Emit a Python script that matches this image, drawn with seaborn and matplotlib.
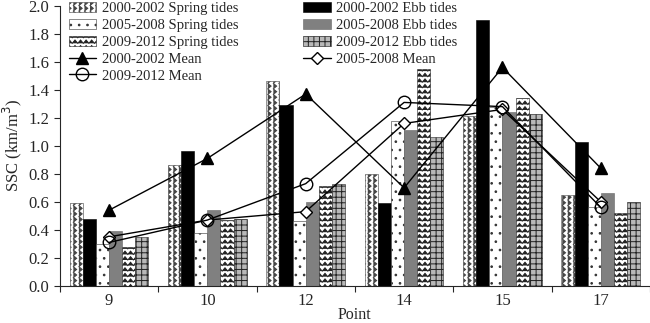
import matplotlib
matplotlib.use("Agg")
import warnings
warnings.filterwarnings("ignore")
import matplotlib.pyplot as plt
import matplotlib.hatch as mhatch
from matplotlib.path import Path
import seaborn as sns
import pandas as pd
import numpy as np

points = ["9", "10", "12", "14", "15", "17"]
series = ["2000-2002 Spring tides", "2000-2002 Ebb tides",
          "2005-2008 Spring tides", "2005-2008 Ebb tides",
          "2009-2012 Spring tides", "2009-2012 Ebb tides"]
spring_0002 = [0.59, 0.86, 1.46, 0.80, 1.21, 0.65]
ebb_0002 = [0.48, 0.96, 1.29, 0.59, 1.90, 1.03]
spring_0508 = [0.30, 0.38, 0.46, 1.18, 1.28, 0.56]
ebb_0508 = [0.39, 0.54, 0.60, 1.11, 1.24, 0.66]
spring_0912 = [0.28, 0.47, 0.71, 1.55, 1.34, 0.52]
ebb_0912 = [0.35, 0.48, 0.73, 1.06, 1.23, 0.60]
mean_0002 = [0.54, 0.91, 1.37, 0.70, 1.56, 0.84]
mean_0508 = [0.35, 0.47, 0.53, 1.16, 1.26, 0.60]
mean_0912 = [0.31, 0.47, 0.73, 1.31, 1.28, 0.56]


NSEG = 36  # zigzag segments per hatch cell


class ZigZagH(mhatch.HatchPatternBase):
    """horizontal zigzag lines, character 'z'"""
    def __init__(self, hatch, density):
        self.num_lines = int(hatch.count('z') * density)
        self.num_vertices = self.num_lines * (NSEG + 1)

    def set_vertices_and_codes(self, vertices, codes):
        if self.num_lines == 0:
            return
        steps, stepsize = np.linspace(0.0, 1.0, self.num_lines, False, retstep=True)
        steps += stepsize / 2.
        amp = stepsize * 0.3
        xs_ = np.linspace(0, 1, NSEG + 1)
        dy = np.where(np.arange(NSEG + 1) % 2 == 0, -amp, amp)
        n = NSEG + 1
        for i, s in enumerate(steps):
            vertices[i * n:(i + 1) * n, 0] = xs_
            vertices[i * n:(i + 1) * n, 1] = s + dy
            codes[i * n] = Path.MOVETO
            codes[i * n + 1:(i + 1) * n] = Path.LINETO


class ZigZagV(mhatch.HatchPatternBase):
    """vertical zigzag lines, character 'v'"""
    def __init__(self, hatch, density):
        self.num_lines = int(hatch.count('v') * density)
        self.num_vertices = self.num_lines * (NSEG + 1)

    def set_vertices_and_codes(self, vertices, codes):
        if self.num_lines == 0:
            return
        steps, stepsize = np.linspace(0.0, 1.0, self.num_lines, False, retstep=True)
        steps += stepsize / 2.
        amp = stepsize * 0.3
        ys_ = np.linspace(0, 1, NSEG + 1)
        dx = np.where(np.arange(NSEG + 1) % 2 == 0, -amp, amp)
        n = NSEG + 1
        for i, s in enumerate(steps):
            vertices[i * n:(i + 1) * n, 1] = ys_
            vertices[i * n:(i + 1) * n, 0] = s + dx
            codes[i * n] = Path.MOVETO
            codes[i * n + 1:(i + 1) * n] = Path.LINETO


for cls in (ZigZagH, ZigZagV):
    if cls not in mhatch._hatch_types:
        mhatch._hatch_types.append(cls)
try:
    mhatch._validate_hatch_pattern = lambda h: None
except Exception:
    pass

vals = [spring_0002, ebb_0002, spring_0508, ebb_0508, spring_0912, ebb_0912]
df = pd.DataFrame([{"Point": p, "Series": s, "SSC": v[i]}
                   for s, v in zip(series, vals) for i, p in enumerate(points)])

sns.set_style("ticks")
plt.rcParams['font.family'] = ['Liberation Serif', 'DejaVu Serif']
plt.rcParams['hatch.linewidth'] = 0.7

fig, ax = plt.subplots(figsize=(6.5, 3.23), dpi=100)
fig.subplots_adjust(left=0.092, right=1.0, top=0.982, bottom=0.115)

styles = {
    series[0]: dict(fc="white", hatch="vvv", ec="#444444"),
    series[1]: dict(fc="black", hatch=None, ec="black"),
    series[2]: dict(fc="white", hatch="..", ec="#333333"),
    series[3]: dict(fc="#808080", hatch=None, ec="#666666"),
    series[4]: dict(fc="white", hatch="zzz", ec="#222222"),
    series[5]: dict(fc="#b8b8b8", hatch="+++", ec="#222222"),
}

sns.barplot(data=df, x="Point", y="SSC", hue="Series", hue_order=series,
            order=points, ax=ax, width=0.8, legend=False, edgecolor="black",
            linewidth=0.4)

for cont, s in zip(ax.containers, series):
    st = styles[s]
    for bar in cont:
        bar.set_facecolor(st["fc"])
        bar.set_edgecolor(st["ec"])
        if st["hatch"]:
            bar.set_hatch(st["hatch"])

xs = np.arange(len(points))
l00, = ax.plot(xs, mean_0002, color="black", lw=1, marker="^", ms=8,
               mfc="black", mec="black", label="2000-2002 Mean")
l05, = ax.plot(xs, mean_0508, color="black", lw=1, marker="D", ms=6,
               mfc="white", mec="black", label="2005-2008 Mean")
l09, = ax.plot(xs, mean_0912, color="black", lw=1, marker="o", ms=9,
               mfc="none", mec="black", label="2009-2012 Mean")

from matplotlib.patches import Patch
def patch(s):
    st = styles[s]
    return Patch(facecolor=st["fc"], edgecolor=st["ec"], hatch=st["hatch"], linewidth=0.4)

handles = [patch(series[0]), patch(series[2]), patch(series[4]), l00, l09,
           patch(series[1]), patch(series[3]), patch(series[5]), l05]
labels = [series[0], series[2], series[4], "2000-2002 Mean", "2009-2012 Mean",
          series[1], series[3], series[5], "2005-2008 Mean"]
ax.legend(handles, labels, ncol=2, loc="upper left", bbox_to_anchor=(0.0, 1.045),
          frameon=False, fontsize=10.5, handlelength=1.9, handleheight=0.7,
          labelspacing=0.25, columnspacing=4.4, handletextpad=0.4, borderpad=0.1)

ax.set_xlim(-0.5, len(points) - 0.5)
ax.set_ylim(0, 2.0)
ax.set_yticks(np.arange(0, 2.01, 0.2))
ax.set_yticklabels([f"{v:.1f}" for v in np.arange(0, 2.01, 0.2)], fontsize=12)
ax.set_xticks(xs)
ax.set_xticklabels(points, fontsize=12)
ax.set_xticks(np.arange(-0.5, len(points), 1), minor=True)
ax.tick_params(axis="x", which="major", length=0, pad=5)
ax.tick_params(axis="x", which="minor", length=4, width=0.8, direction="out")
ax.tick_params(axis="y", length=4, width=0.8, direction="out")
ax.set_xlabel("Point", fontsize=11.5, labelpad=-1.5)
ax.set_ylabel("SSC (km/m$^3$)", fontsize=12, labelpad=3)
for sp in ["top", "right"]:
    ax.spines[sp].set_visible(False)
ax.spines["left"].set_linewidth(0.8)
ax.spines["bottom"].set_linewidth(0.8)

fig.savefig("out.png", dpi=100)
